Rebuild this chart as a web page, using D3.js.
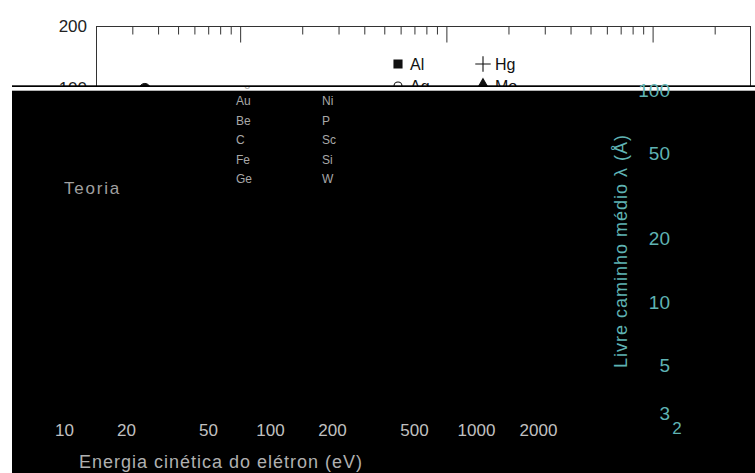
<!DOCTYPE html>
<html>
<head>
<meta charset="utf-8">
<script src="https://cdn.jsdelivr.net/npm/d3@7"></script>
<style>
  body { margin: 0; background: #fff; }
  svg { display: block; font-family: "Liberation Sans", Arial, sans-serif; }
</style>
</head>
<body>
<div class="mainContent"></div>
<script>
const w = 755;
const h = 473;

// top axis ticks (eV)
const majorTicks = [100, 1000, 10000];
const minorTicks = [30, 40, 50, 60, 70, 80, 90, 200, 300, 400, 500, 600, 700, 800, 900,
                    2000, 3000, 4000, 5000, 6000, 7000, 8000, 9000, 20000];
const leftLabels = [200, 100];

// legend
const col1 = ['Al', 'Ag', 'Au', 'Be', 'C', 'Fe', 'Ge'];
const col2 = ['Hg', 'Mo', 'Ni', 'P', 'Sc', 'Si', 'W'];

// curva teórica: energia (eV), livre caminho médio (Å)
const theoryE = [20, 30, 50, 70, 100, 200, 500, 1000, 2000, 5000, 10000, 20000, 30000];
const theoryL = [8, 6, 5, 5, 5.5, 7, 11, 16, 24, 38, 55, 75, 90];

// medidas por elemento [energia, lambda]
const alPts = [[40, 5], [100, 6], [300, 9], [1000, 18]];
const agPts = [[60, 5], [150, 6], [400, 9], [1500, 20]];
const auPts = [[34.5, 99], [80, 5], [200, 7], [1200, 17]];
const hgPts = [[50, 6], [250, 8]];
const moPts = [[70, 5], [600, 12]];

// rótulos que aparecem sobre a faixa escura
const energyLabels = [10, 20, 50, 100, 200, 500, 1000, 2000];
const pathLabels = [100, 50, 20, 10, 5, 3];

function draw() {
    try {
        const xScale = d3.scaleLog().domain([20, 30000]).range([96, 751]);
        const yScale = d3.scaleLog().domain([2, 200]).range([438, 26]);

        const svg = d3.select('.mainContent')
            .append('svg')
            .attr('width', w)
            .attr('height', h);

        svg.append('rect').attr('width', w).attr('height', h).attr('fill', '#fff');

        svg.append('clipPath').attr('id', 'band')
            .append('rect').attr('x', 0).attr('y', 87).attr('width', w).attr('height', h - 87);

        // frame
        svg.append('rect')
            .attr('x', 96.5).attr('y', 26.5)
            .attr('width', 654).attr('height', 412)
            .attr('fill', 'none').attr('stroke', '#333');

        // ticks pointing inward from the top
        const minorAxis = d3.axisTop(xScale).tickValues(minorTicks).tickSizeInner(-8).tickFormat('');
        const majorAxis = d3.axisTop(xScale).tickValues(majorTicks).tickSizeInner(-16).tickFormat('');
        [minorAxis, majorAxis].forEach(ax => {
            const g = svg.append('g').attr('transform', 'translate(0,26.5)').call(ax);
            g.select('.domain').remove();
            g.selectAll('line').attr('stroke', '#333');
        });

        svg.selectAll('text.ylab')
            .data(leftLabels)
            .enter()
            .append('text')
            .attr('class', 'ylab')
            .attr('x', 87)
            .attr('y', d => yScale(d))
            .attr('text-anchor', 'end')
            .attr('dominant-baseline', 'central')
            .attr('font-size', 17)
            .attr('fill', '#222')
            .text(d => d);

        // theory line and data
        const line = d3.line()
            .x((d, i) => xScale(theoryE[i]))
            .y(d => yScale(d));
        svg.append('path')
            .attr('d', line(theoryL))
            .attr('fill', 'none')
            .attr('stroke', '#222');

        const series = [
            { pts: alPts, type: d3.symbolSquare, size: 64, fill: '#111' },
            { pts: agPts, type: d3.symbolCircle, size: 50, fill: 'none' },
            { pts: auPts, type: d3.symbolCircle, size: 95, fill: '#111' },
            { pts: hgPts, type: d3.symbolPlus, size: 80, fill: 'none' },
            { pts: moPts, type: d3.symbolTriangle, size: 60, fill: '#111' }
        ];
        series.forEach(s => {
            svg.selectAll(null)
                .data(s.pts)
                .enter()
                .append('path')
                .attr('transform', d => `translate(${xScale(d[0])},${yScale(d[1])})`)
                .attr('d', d3.symbol().type(s.type).size(s.size))
                .attr('fill', s.fill)
                .attr('stroke', '#111');
        });

        // legend
        const legend = [
            { names: col1, x: 398, sym: [d3.symbolSquare, d3.symbolCircle], fill: ['#111', 'none'], size: [64, 50] },
            { names: col2, x: 483, sym: [d3.symbolPlus, d3.symbolTriangle], fill: ['none', '#111'], size: [80, 70] }
        ];
        legend.forEach(col => {
            col.names.slice(0, 2).forEach((name, i) => {
                const cy = 64 + i * 22;
                svg.append('path')
                    .attr('transform', `translate(${col.x},${cy})`)
                    .attr('d', d3.symbol().type(col.sym[i]).size(col.size[i]))
                    .attr('fill', col.fill[i])
                    .attr('stroke', '#111')
                    .attr('stroke-width', 1.1);
                svg.append('text')
                    .attr('x', col.x + 12)
                    .attr('y', cy + 6)
                    .attr('font-size', 16)
                    .attr('fill', '#111')
                    .text(name);
            });
        });

        // dark band over the lower part
        svg.append('rect').attr('x', 12).attr('y', 85.3).attr('width', w - 12).attr('height', h - 85.3).attr('fill', '#000');
        svg.append('rect').attr('x', 12).attr('y', 87).attr('width', w - 12).attr('height', 3.7).attr('fill', '#fff');

        // element names in the band
        const names = svg.append('g').attr('clip-path', 'url(#band)');
        [{ names: col1, x: 236 }, { names: col2, x: 322 }].forEach(col => {
            names.selectAll(null)
                .data(col.names.slice(1))
                .enter()
                .append('text')
                .attr('x', col.x)
                .attr('y', (d, i) => 82 + i * 19.4)
                .attr('dominant-baseline', 'central')
                .attr('font-size', 12)
                .attr('fill', '#a8a8a8')
                .text(d => d);
        });

        svg.append('text')
            .attr('x', 64).attr('y', 188)
            .attr('dominant-baseline', 'central')
            .attr('font-size', 17)
            .attr('letter-spacing', 1.8)
            .attr('fill', '#a0a0a0')
            .text('Teoria');

        // energy labels
        const eScale = d3.scaleLog().domain([10, 1000]).range([64, 476]);
        const eAxis = d3.axisBottom(eScale).tickValues(energyLabels).tickSize(0).tickFormat(d3.format('d'));
        const eg = svg.append('g').attr('transform', 'translate(0,421)').call(eAxis);
        eg.select('.domain').remove();
        eg.selectAll('text')
            .attr('font-family', '"Liberation Sans", Arial, sans-serif')
            .attr('font-size', 17)
            .attr('fill', '#c0c0c0');

        svg.append('text')
            .attr('x', 221).attr('y', 462)
            .attr('text-anchor', 'middle')
            .attr('dominant-baseline', 'central')
            .attr('font-size', 18)
            .attr('letter-spacing', 1)
            .attr('fill', '#b0b0b0')
            .text('Energia cinética do elétron (eV)');

        // mean free path labels
        const lScale = d3.scaleLog().domain([3, 100]).range([413, 90]);
        svg.selectAll('text.rlab')
            .data(pathLabels)
            .enter()
            .append('text')
            .attr('class', 'rlab')
            .attr('x', 670)
            .attr('y', d => lScale(d))
            .attr('text-anchor', 'end')
            .attr('dominant-baseline', 'central')
            .attr('font-size', 19)
            .attr('fill', '#5fb3b3')
            .text(d => d);

        svg.append('text')
            .attr('x', 677).attr('y', 428)
            .attr('text-anchor', 'middle')
            .attr('dominant-baseline', 'central')
            .attr('font-size', 17)
            .attr('fill', '#5fb3b3')
            .text('2');

        svg.append('text')
            .attr('transform', 'translate(621,251) rotate(-90)')
            .attr('text-anchor', 'middle')
            .attr('dominant-baseline', 'central')
            .attr('font-size', 18)
            .attr('letter-spacing', 1)
            .attr('fill', '#5fb3b3')
            .text('Livre caminho médio λ (Å)');
    }
    catch (error) {
        console.log(error);
    }
}

draw();
</script>
</body>
</html>
